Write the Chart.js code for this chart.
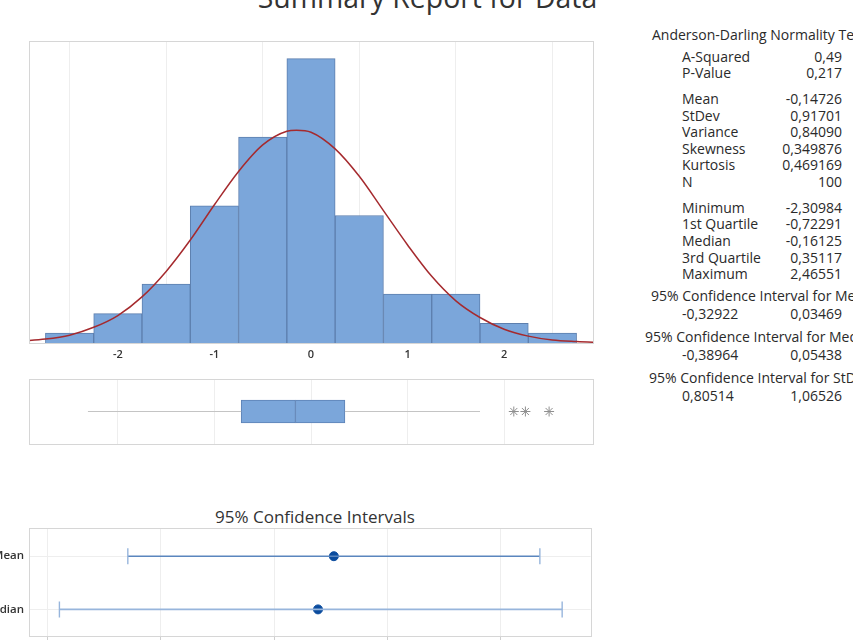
<!DOCTYPE html>
<html>
<head>
<meta charset="utf-8">
<script src="https://cdn.jsdelivr.net/npm/chart.js@4/dist/chart.umd.min.js"></script>
<style>
  html, body { margin: 0; padding: 0; background: #fff; }
  body { width: 853px; height: 640px; position: relative; overflow: hidden; font-family: "Open Sans", sans-serif; color: #2a2a2a; }
  canvas { position: absolute; }
  .txt { position: absolute; white-space: nowrap; line-height: 16px; font-size: 14px; }
  .r { text-align: right; }
</style>
</head>
<body>
<div class="txt" style="left:0;width:855px;top:-17px;font-size:28.4px;line-height:28px;text-align:center;color:#333;">Summary Report for Data</div>
<canvas id="hist" width="610" height="335" style="left:0;top:30px;"></canvas>
<canvas id="box" width="610" height="80" style="left:0;top:370px;"></canvas>
<div class="txt" style="left:0;width:630px;top:507px;font-size:17px;line-height:20px;text-align:center;color:#333;">95% Confidence Intervals</div>
<canvas id="ci" width="660" height="165" style="left:-60px;top:500px;"></canvas>
<div id="stats"></div>

<script>
// histogram bins (bin centres, width 0.5) and counts
const binCenters = [-2.5, -2, -1.5, -1, -0.5, 0, 0.5, 1, 1.5, 2, 2.5];
const binCounts = [1, 3, 6, 14, 21, 29, 13, 5, 5, 2, 1];

// fitted normal curve, read at points along x
const curveX = [-3, -2.75, -2.5, -2.25, -2, -1.75, -1.5, -1.25, -1, -0.75, -0.5, -0.25, -0.15, 0, 0.25, 0.5, 0.75, 1, 1.25, 1.5, 1.75, 2, 2.25, 2.5, 2.75, 3];
const curveY = [0.2, 0.4, 0.8, 1.6, 2.8, 4.7, 7.3, 10.5, 14.1, 17.5, 20.2, 21.6, 21.7, 21.5, 19.8, 17.0, 13.5, 10.0, 6.8, 4.3, 2.6, 1.4, 0.7, 0.3, 0.15, 0.06];

const histTicks = [-2, -1, 0, 1, 2];

// boxplot
const boxWhiskerLow = -2.30984;
const boxQ1 = -0.72291;
const boxMedian = -0.16125;
const boxQ3 = 0.35117;
const boxWhiskerHigh = 1.75;
const boxOutliers = [2.1, 2.22, 2.46551];

// confidence intervals
const ciLabels = ['Mean', 'Median'];
const ciLow = [-0.32922, -0.38964];
const ciHigh = [0.03469, 0.05438];
const ciCenter = [-0.14726, -0.16125];
const ciTicks = [-0.4, -0.3, -0.2, -0.1, 0];

// stats panel
const adLabels = ['A-Squared', 'P-Value'];
const adValues = ['0,49', '0,217'];
const descLabels = ['Mean', 'StDev', 'Variance', 'Skewness', 'Kurtosis', 'N'];
const descValues = ['-0,14726', '0,91701', '0,84090', '0,349876', '0,469169', '100'];
const quartLabels = ['Minimum', '1st Quartile', 'Median', '3rd Quartile', 'Maximum'];
const quartValues = ['-2,30984', '-0,72291', '-0,16125', '0,35117', '2,46551'];
const ciTitles = ['95% Confidence Interval for Mean', '95% Confidence Interval for Median', '95% Confidence Interval for StDev'];
const ciTableLow = [-0.32922, -0.38964, 0.80514];
const ciTableHigh = [0.03469, 0.05438, 1.06526];

const comma = (v, d) => v.toFixed(d).replace('.', ',');

// frame round the plot area, like Minitab
const frame = {
  id: 'frame',
  afterDraw(chart) {
    const a = chart.chartArea, ctx = chart.ctx;
    ctx.save();
    ctx.strokeStyle = '#d6d6d6';
    ctx.lineWidth = 1;
    ctx.strokeRect(Math.round(a.left) + 0.5, Math.round(a.top) + 0.5, Math.round(a.right - a.left), Math.round(a.bottom - a.top));
    ctx.restore();
  }
};

const barBlue = '#7ba6da';
const faint = '#eeeeee';

new Chart(document.getElementById('hist'), {
  type: 'bar',
  data: {
    datasets: [{
      type: 'line',
      data: curveX.map((x, i) => ({ x: x, y: curveY[i] })),
      borderColor: '#a52a2e',
      borderWidth: 1.5,
      pointRadius: 0,
      cubicInterpolationMode: 'monotone',
      order: 0
    }, {
      type: 'bar',
      data: binCenters.map((c, i) => ({ x: c, y: binCounts[i] })),
      backgroundColor: barBlue,
      borderColor: '#5d7fae',
      borderWidth: 1,
      borderSkipped: 'bottom',
      barPercentage: 1,
      categoryPercentage: 1,
      order: 1
    }]
  },
  options: {
    responsive: false,
    animation: false,
    layout: { padding: { left: 29, right: 17, top: 11, bottom: 0 } },
    plugins: { legend: { display: false }, tooltip: { enabled: false } },
    scales: {
      x: {
        type: 'linear', min: -2.92, max: 2.92, offset: false,
        afterBuildTicks: axis => { axis.ticks = histTicks.map(v => ({ value: v })); },
        afterFit: axis => { axis.height = 22; },
        grid: { color: faint, drawTicks: false },
        border: { display: false },
        ticks: { padding: 5, color: '#333', font: { family: 'Open Sans', size: 11, weight: '600' }, callback: v => String(v) }
      },
      y: { display: false, min: 0, max: 30.8 }
    }
  },
  plugins: [frame]
});

new Chart(document.getElementById('box'), {
  type: 'scatter',
  data: {
    datasets: [{
      type: 'line',
      data: [{ x: boxWhiskerLow, y: 0.5 }, { x: boxQ1, y: 0.5 }, { x: boxQ1, y: null }, { x: boxQ3, y: 0.5 }, { x: boxWhiskerHigh, y: 0.5 }],
      borderColor: '#c4c4c4',
      borderWidth: 1.2,
      pointRadius: 0,
      spanGaps: false
    }, {
      type: 'bar',
      indexAxis: 'y',
      grouped: false,
      data: [{ x: [boxQ1, boxMedian], y: 0.5 }],
      backgroundColor: barBlue,
      borderColor: '#5d82b6',
      borderWidth: 1,
      borderSkipped: false,
      barThickness: 23
    }, {
      type: 'bar',
      indexAxis: 'y',
      grouped: false,
      data: [{ x: [boxMedian, boxQ3], y: 0.5 }],
      backgroundColor: barBlue,
      borderColor: '#5d82b6',
      borderWidth: 1,
      borderSkipped: false,
      barThickness: 23
    }, {
      type: 'scatter',
      data: boxOutliers.map(v => ({ x: v, y: 0.5 })),
      pointStyle: 'star',
      pointRadius: 5,
      borderColor: '#8f8f8f',
      pointBorderWidth: 1
    }]
  },
  options: {
    responsive: false,
    animation: false,
    layout: { padding: { left: 29, right: 17, top: 9, bottom: 4 } },
    plugins: { legend: { display: false }, tooltip: { enabled: false } },
    scales: {
      x: {
        type: 'linear', min: -2.92, max: 2.92,
        afterBuildTicks: axis => { axis.ticks = histTicks.map(v => ({ value: v })); },
        afterFit: axis => { axis.height = 0; },
        grid: { color: faint, drawTicks: false },
        border: { display: false },
        ticks: { display: false }
      },
      y: {
        type: 'linear', min: 0, max: 1,
        afterBuildTicks: axis => { axis.ticks = [{ value: 0.5 }]; },
        afterFit: axis => { axis.width = 0; },
        grid: { color: faint, drawTicks: false },
        border: { display: false },
        ticks: { display: false }
      }
    }
  },
  plugins: [frame]
});

const ciColors = ['#5a86be', '#97b5dc'];

new Chart(document.getElementById('ci'), {
  type: 'scatter',
  data: {
    datasets: ciLabels.map((lab, i) => ({
      type: 'line',
      data: [{ x: ciLow[i], y: i + 1 }, { x: ciHigh[i], y: i + 1 }],
      borderColor: ciColors[i],
      borderWidth: 1.6,
      pointStyle: 'line',
      pointRadius: 8,
      pointRotation: 90,
      pointBorderColor: '#97b5dc',
      pointBorderWidth: 1.4
    })).concat([{
      type: 'scatter',
      data: ciCenter.map((v, i) => ({ x: v, y: i + 1 })),
      pointRadius: 4.5,
      backgroundColor: '#0b4c9e',
      borderColor: '#0b4c9e'
    }])
  },
  options: {
    responsive: false,
    animation: false,
    layout: { padding: { left: 0, right: 6, top: 28, bottom: 0 } },
    plugins: { legend: { display: false }, tooltip: { enabled: false } },
    scales: {
      x: {
        type: 'linear', min: -0.4165, max: 0.0795,
        afterBuildTicks: axis => { axis.ticks = ciTicks.map(v => ({ value: v })); },
        afterFit: axis => { axis.height = 29; },
        grid: { color: faint, tickLength: 4, tickColor: '#cfcfcf' },
        border: { display: false },
        ticks: { padding: 3, color: '#333', font: { family: 'Open Sans', size: 11, weight: '600' }, callback: v => comma(v, 1) }
      },
      y: {
        type: 'linear', min: 0.47, max: 2.5, reverse: true,
        afterBuildTicks: axis => { axis.ticks = [{ value: 1 }, { value: 2 }]; },
        afterFit: axis => { axis.width = 89; },
        grid: { color: faint, drawTicks: false },
        border: { display: false },
        ticks: { padding: 5, color: '#333', font: { family: 'Open Sans', size: 11.5, weight: '600' }, callback: v => ciLabels[v - 1] }
      }
    }
  },
  plugins: [frame]
});

// text panel on the right
const stats = document.getElementById('stats');
function addText(text, x, yc, right) {
  const d = document.createElement('div');
  d.className = 'txt' + (right ? ' r' : '');
  d.textContent = text;
  d.style.top = (yc - 8) + 'px';
  if (right) { d.style.left = (x - 120) + 'px'; d.style.width = '120px'; }
  else d.style.left = x + 'px';
  stats.appendChild(d);
}
const rowStep = 16.6;
addText('Anderson-Darling Normality Test', 652, 35);
adLabels.forEach((l, i) => { addText(l, 682, 56.7 + i * rowStep); addText(adValues[i], 842, 56.7 + i * rowStep, true); });
descLabels.forEach((l, i) => { addText(l, 682, 99 + i * rowStep); addText(descValues[i], 842, 99 + i * rowStep, true); });
quartLabels.forEach((l, i) => { addText(l, 682, 207.7 + i * rowStep); addText(quartValues[i], 842, 207.7 + i * rowStep, true); });
const ciHeadY = [296, 337, 378];
const ciHeadX = [651, 645, 649];
ciTitles.forEach((t, i) => {
  addText(t, ciHeadX[i], ciHeadY[i]);
  addText(comma(ciTableLow[i], 5), 682, ciHeadY[i] + 18);
  addText(comma(ciTableHigh[i], 5), 842, ciHeadY[i] + 18, true);
});
</script>
</body>
</html>
